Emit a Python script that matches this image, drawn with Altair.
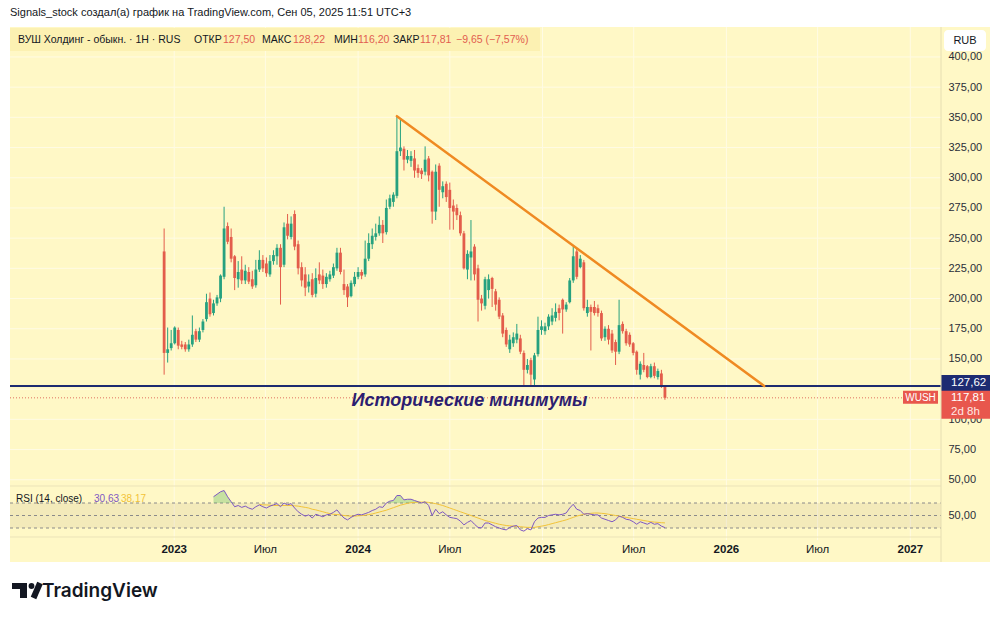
import altair as alt
import pandas as pd

FONT = "Liberation Sans"
BG = "#fff8c6"
GRID = "#fffbe4"
UP = "#26a17f"
DOWN = "#e35d4b"
NAVY = "#1d2b72"
ORANGE = "#ef8a22"
PURPLE = "#7e57c2"
MAYEL = "#f2c338"
INK = "#131722"
REDTXT = "#e25d4f"

TITLE = "Signals_stock создал(а) график на TradingView.com, Сен 05, 2025 11:51 UTC+3"
SYMBOL = "ВУШ Холдинг - обыкн. · 1H · RUS"
ANNOT = "Исторические минимумы"

# weekly candles starting 2022-12-12
DATES = pd.date_range("2022-12-12", periods=143, freq="7D").strftime("%Y-%m-%d").tolist()

OPEN = [239, 155, 159, 163, 174, 162, 162, 158, 162, 173,
        166, 174, 183, 200, 188, 196, 200, 218, 260, 251,
        235, 216, 224, 215, 222, 216, 211, 224, 232, 229,
        220, 231, 235, 242, 228, 262, 251, 270, 245, 226,
        220, 210, 216, 204, 220, 219, 212, 216, 219, 225,
        238, 212, 210, 202, 212, 218, 222, 220, 233, 245,
        251, 254, 261, 255, 276, 280, 285, 322, 324, 315,
        314, 316, 308, 306, 305, 316, 305, 272, 310, 288,
        295, 290, 277, 275, 269, 254, 224, 234, 243, 225,
        200, 194, 207, 217, 206, 199, 186, 174, 158, 163,
        166, 167, 155, 141, 149, 133, 154, 174, 173, 177,
        181, 184, 192, 199, 191, 197, 215, 239, 226, 230,
        188, 193, 193, 192, 188, 168, 175, 171, 164, 156,
        179, 173, 170, 163, 156, 137, 145, 144, 135, 144,
        135, 138, 127.5]
HIGH = [258, 176, 174, 177, 176, 165, 164, 166, 186, 175,
        176, 183, 204, 205, 199, 203, 220, 276, 263, 258,
        236, 231, 235, 228, 226, 223, 232, 240, 236, 234,
        236, 240, 245, 245, 263, 270, 268, 273, 248, 230,
        226, 220, 221, 225, 230, 224, 221, 223, 229, 242,
        242, 224, 212, 215, 222, 226, 224, 248, 254, 258,
        262, 268, 265, 282, 286, 288, 351, 348, 326, 323,
        322, 323, 311, 308, 326, 318, 306, 311, 312, 297,
        297, 296, 282, 278, 272, 256, 240, 265, 245, 228,
        203, 218, 220, 218, 208, 201, 188, 176, 170, 172,
        179, 170, 157, 150, 151, 155, 185, 182, 180, 187,
        192, 196, 195, 200, 197, 217, 243, 241, 236, 232,
        199, 195, 198, 195, 190, 177, 178, 174, 166, 199,
        181, 175, 172, 164, 157, 148, 155, 145, 146, 147,
        142, 141, 128.22]
LOW = [137, 147, 157, 162, 158, 158, 156, 156, 160, 164,
       164, 172, 181, 185, 186, 194, 197, 216, 245, 230,
       207, 209, 212, 212, 212, 208, 209, 222, 222, 218,
       218, 228, 228, 195, 226, 249, 249, 240, 220, 210,
       202, 205, 201, 201, 212, 208, 209, 214, 217, 223,
       220, 203, 193, 201, 210, 216, 216, 218, 231, 241,
       248, 252, 246, 253, 274, 276, 283, 318, 306, 312,
       309, 300, 300, 299, 302, 297, 262, 265, 276, 283,
       280, 257, 257, 265, 252, 224, 216, 215, 215, 181,
       190, 191, 200, 193, 190, 183, 168, 160, 155, 160,
       163, 154, 128, 138, 128, 128, 152, 170, 170, 174,
       178, 181, 182, 171, 189, 196, 213, 216, 225, 190,
       185, 157, 186, 185, 165, 165, 162, 155, 145, 154,
       171, 161, 160, 153, 137, 133, 139, 134, 134, 134,
       133, 126, 116.2]
CLOSE = [155, 158, 163, 176, 161, 160, 158, 162, 170, 166,
         173, 181, 197, 187, 196, 201, 219, 258, 247, 233,
         217, 222, 215, 223, 214, 210, 224, 232, 225, 221,
         231, 236, 242, 226, 259, 252, 262, 243, 225, 215,
         209, 214, 203, 217, 215, 212, 218, 220, 226, 238,
         222, 207, 201, 213, 218, 222, 219, 233, 246, 252,
         254, 261, 254, 275, 283, 286, 322, 325, 315, 318,
         318, 306, 304, 303, 315, 302, 272, 305, 290, 293,
         284, 275, 272, 269, 254, 225, 237, 239, 220, 199,
         196, 216, 216, 208, 195, 185, 171, 162, 166, 168,
         171, 156, 141, 145, 137, 153, 174, 177, 177, 185,
         186, 189, 188, 191, 195, 215, 235, 218, 233, 192,
         193, 189, 188, 188, 167, 175, 166, 157, 156, 178,
         173, 163, 162, 155, 141, 146, 141, 135, 144, 136,
         140, 128, 117.81]

# RSI(14) from the 15th candle on
RSI = [80, 84, 88, 90, 80, 72, 64, 66, 63, 65,
       62, 60, 64, 67, 64, 62, 65, 67, 69, 64,
       70, 67, 69, 62, 56, 52, 49, 51, 46, 52,
       50, 48, 51, 52, 55, 59, 52, 46, 43, 47,
       50, 52, 51, 53, 55, 58, 60, 64, 63, 70,
       73, 74, 82, 82, 75, 76, 76, 74, 72, 70,
       72, 66, 50, 60, 53, 56, 51, 47, 46, 45,
       41, 35, 39, 42, 36, 31, 30, 38, 38, 35,
       32, 30, 28, 27, 31, 33, 34, 27, 25, 29,
       27, 40, 46, 47, 47, 50, 51, 52, 51, 52,
       54, 62, 68, 60, 58, 52, 53, 52, 51, 51,
       46, 44, 42, 40, 43, 49, 47, 44, 43, 40,
       36, 40, 38, 36, 39, 36, 37, 33, 30.63]
# RSI moving average from the 28th candle on
RSI_MA = [68, 67, 67, 66.5, 66, 66, 66, 66, 66, 66,
          65.5, 65, 64, 63, 62, 60, 59, 57.5, 56, 54.5,
          53, 52, 51.5, 51, 50, 49.5, 49, 49, 49.5, 50,
          50.5, 51.5, 52.5, 54, 55.5, 57, 58.5, 60.5, 62.5, 64.5,
          66.5, 68, 69.5, 70.5, 71, 71.5, 71.5, 71.5, 71, 70,
          69, 67.5, 66, 64, 62, 60, 58, 56, 54, 52,
          50, 48, 46, 44, 42, 40.5, 39, 37.5, 36, 35,
          34, 33.5, 33, 32.5, 32, 31.5, 31, 31, 31, 32,
          33, 34, 35.5, 37, 38.5, 40, 41.5, 43, 45, 47,
          49, 50.5, 52, 53, 53.5, 54, 54, 53.5, 53, 52,
          51, 50, 49, 48, 47, 46, 45, 44, 43, 42,
          41, 40, 39.5, 39, 38.5, 38.17]

SUPPORT = 127.62
LAST = 117.81
TREND_DATES = ["2024-03-18", "2026-03-17"]
TREND_PRICES = [351, 127.62]
ANNOT_DATE = "2024-08-09"
ANNOT_PRICE = 115
GRID_LEVELS = [50, 75, 100, 125, 150, 175, 200, 225, 250, 275, 300, 325, 350, 375, 400]
PRICE_TICKS = [50, 75, 100, 150, 175, 200, 225, 250, 275, 300, 325, 350, 375, 400]
YEAR_TICKS = ["2023-01-01", "2024-01-01", "2025-01-01", "2026-01-01", "2027-01-01"]
YEAR_LABELS = ["2023", "2024", "2025", "2026", "2027"]
JUL_TICKS = ["2023-07-01", "2024-07-01", "2025-07-01", "2026-07-01"]
JUL_LABELS = ["Июл", "Июл", "Июл", "Июл"]

candles = pd.DataFrame({"date": DATES, "open": OPEN, "high": HIGH, "low": LOW, "close": CLOSE})
rsi_df = pd.DataFrame({"date": DATES[14:], "rsi": RSI})
ma_df = pd.DataFrame({"date": DATES[27:], "ma": RSI_MA})
trend_df = pd.DataFrame({"date": TREND_DATES, "p": TREND_PRICES})
years_df = pd.DataFrame({"date": YEAR_TICKS, "t": YEAR_LABELS})
jul_df = pd.DataFrame({"date": JUL_TICKS, "t": JUL_LABELS})
ONE = pd.DataFrame({"k": [0]})

W, H, PB = 931, 513, 460

X_SCALE = alt.Scale(type="utc", domain=[alt.DateTime(year=2022, month=2, date=19, utc=True),
                                        alt.DateTime(year=2027, month=2, date=21, utc=True)])
PRICE_SCALE = alt.Scale(domain=[44.0, 424.8], range=[PB, 0], zero=False, nice=False)
RSI_SCALE = alt.Scale(domain=[10.8, 95.6], range=[H, PB], zero=False, nice=False)

LABEL_EXPR = "replace(format(datum.value, '.2f'), '.', ',')"

P_AXIS = alt.Axis(orient="right", values=PRICE_TICKS, labelExpr=LABEL_EXPR, grid=False,
                  domain=False, ticks=False, tickSize=0, labelPadding=7, zindex=0,
                  labelFont=FONT, labelFontSize=11, labelColor="#2a2e39", title=None)
R_AXIS = alt.Axis(orient="right", values=[50], labelExpr=LABEL_EXPR, grid=False,
                  domain=False, ticks=False, tickSize=0, labelPadding=7, zindex=0,
                  labelFont=FONT, labelFontSize=11, labelColor="#2a2e39", title=None)

COLOR = alt.condition("datum.close >= datum.open", alt.value(UP), alt.value(DOWN))


def xf(field="date"):
    return alt.X(f"{field}:T", scale=X_SCALE, axis=None)


def py(field):
    return alt.Y(f"{field}:Q", scale=PRICE_SCALE, axis=None)


def ry(field):
    return alt.Y(f"{field}:Q", scale=RSI_SCALE, axis=None)


def txt(s, x, y, size=11, color=INK, weight="normal", align="left", font=FONT):
    return alt.Chart(ONE).mark_text(text=s, fontSize=size, color=color, fontWeight=weight,
                                    align=align, baseline="middle", font=font).encode(
        x=alt.value(x), y=alt.value(y))


def box(x1, x2, y1, y2, color, r=0):
    return alt.Chart(ONE).mark_rect(color=color, cornerRadius=r).encode(
        x=alt.value(x1), x2=alt.value(x2), y=alt.value(y1), y2=alt.value(y2))


def hline(x1, x2, y, color, w=1):
    return alt.Chart(ONE).mark_rule(color=color, strokeWidth=w).encode(
        x=alt.value(x1), x2=alt.value(x2), y=alt.value(y))


# ---------- grid ----------
hgrid = alt.Chart(pd.DataFrame({"lvl": GRID_LEVELS})).mark_rule(color=GRID, strokeWidth=1).encode(
    y=py("lvl"), x=alt.value(0), x2=alt.value(W))
vgrid = alt.Chart(pd.DataFrame({"date": YEAR_TICKS + JUL_TICKS})).mark_rule(
    color=GRID, strokeWidth=1).encode(x=xf(), y=alt.value(0), y2=alt.value(H))

# ---------- time axis labels (positioned by the x scale) ----------
year_lbl = alt.Chart(years_df).mark_text(font=FONT, fontSize=11.5, fontWeight="bold", color=INK,
                                         align="center", baseline="middle").encode(
    x=xf(), y=alt.value(523), text="t:N")
jul_lbl = alt.Chart(jul_df).mark_text(font=FONT, fontSize=11.5, color=INK,
                                      align="center", baseline="middle").encode(
    x=xf(), y=alt.value(523), text="t:N")

# ---------- price pane ----------
wicks = alt.Chart(candles).mark_rule(strokeWidth=1).encode(
    x=xf(), y=alt.Y("low:Q", scale=PRICE_SCALE, axis=P_AXIS), y2="high:Q", color=COLOR)
bodies = alt.Chart(candles).mark_bar(size=2.8).encode(
    x=xf(), y=py("open"), y2="close:Q", color=COLOR)

sup_df = pd.DataFrame({"p": [SUPPORT]})
last_df = pd.DataFrame({"p": [LAST]})
support = alt.Chart(sup_df).mark_rule(color=NAVY, strokeWidth=2).encode(
    y=py("p"), x=alt.value(0), x2=alt.value(W))
closeline = alt.Chart(last_df).mark_rule(color="#e0705f", strokeWidth=1, strokeDash=[1, 2]).encode(
    y=py("p"), x=alt.value(0), x2=alt.value(893))
trend = alt.Chart(trend_df).mark_line(color=ORANGE, strokeWidth=2.5, strokeCap="round").encode(
    x=xf(), y=py("p"))
annot = alt.Chart(pd.DataFrame({"date": [ANNOT_DATE], "p": [ANNOT_PRICE], "t": [ANNOT]})).mark_text(
    font=FONT, fontSize=18, fontStyle="italic", fontWeight="bold", color="#2c1d70",
    align="center", baseline="middle").encode(x=xf(), y=py("p"), text="t:N")

navybox = alt.Chart(sup_df).mark_rect(color=NAVY, yOffset=-11, y2Offset=5).encode(
    x=alt.value(W), x2=alt.value(980), y=py("p"), y2="p:Q")
navytext = alt.Chart(sup_df).mark_text(text="127,62", font=FONT, fontSize=11.5, color="white",
                                       align="left", baseline="middle", dy=-3).encode(
    x=alt.value(941), y=py("p"))
redbox = alt.Chart(last_df).mark_rect(color="#e8574d", yOffset=-7, y2Offset=21).encode(
    x=alt.value(W), x2=alt.value(980), y=py("p"), y2="p:Q")
redtext1 = alt.Chart(last_df).mark_text(text="117,81", font=FONT, fontSize=11.5, color="white",
                                        align="left", baseline="middle", dy=0).encode(
    x=alt.value(941), y=py("p"))
redtext2 = alt.Chart(last_df).mark_text(text="2d 8h", font=FONT, fontSize=11.5, color="#ffe8e4",
                                        align="left", baseline="middle", dy=14).encode(
    x=alt.value(941), y=py("p"))
wushbox = alt.Chart(last_df).mark_rect(color="#e8574d", yOffset=-7, y2Offset=6).encode(
    x=alt.value(893), x2=alt.value(928), y=py("p"), y2="p:Q")
wushtext = alt.Chart(last_df).mark_text(text="WUSH", font=FONT, fontSize=10, color="white",
                                        align="center", baseline="middle").encode(
    x=alt.value(910.5), y=py("p"))

# ---------- RSI pane ----------
band = alt.Chart(pd.DataFrame({"lo": [30], "hi": [70]})).mark_rect(color="#a08a70", opacity=0.13).encode(
    x=alt.value(0), x2=alt.value(W), y=ry("hi"), y2="lo:Q")
levels = alt.Chart(pd.DataFrame({"lvl": [70, 50, 30]})).mark_rule(
    color="#8a8a8a", strokeWidth=1, strokeDash=[3, 3]).encode(
    x=alt.value(0), x2=alt.value(W), y=ry("lvl"))
ob = alt.Chart(rsi_df).transform_calculate(hi="max(datum.rsi, 70)", base="70").mark_area(
    color="#5cb85c", opacity=0.35).encode(x=xf(), y=ry("hi"), y2="base:Q")
ma_line = alt.Chart(ma_df).mark_line(color=MAYEL, strokeWidth=1).encode(x=xf(), y=ry("ma"))
rsi_line = alt.Chart(rsi_df).mark_line(color=PURPLE, strokeWidth=1).encode(
    x=xf(), y=alt.Y("rsi:Q", scale=RSI_SCALE, axis=R_AXIS))

# ---------- decoration ----------
deco = [
    box(-10, 990, -27, 0, "white"),
    box(-10, 0, -27, 592, "white"),
    box(980, 990, -27, 592, "white"),
    box(-10, 990, 535, 592, "white"),
    hline(0, W, 459, "#ebe3b8"),
    hline(0, W, 510, "#ebe3b8"),
    alt.Chart(ONE).mark_rule(color="#e6deb2", strokeWidth=1).encode(
        x=alt.value(W), y=alt.value(0), y2=alt.value(535)),
    txt(TITLE, 0, -14, size=11),
    box(0, 530, 1, 24, "#fcf1b2"),
    txt(SYMBOL, 8, 13, size=10.5),
    txt("ОТКР", 184, 13, size=10.5), txt("127,50", 213, 13, size=10.5, color=REDTXT),
    txt("МАКС", 252, 13, size=10.5), txt("128,22", 283, 13, size=10.5, color=REDTXT),
    txt("МИН", 324, 13, size=10.5), txt("116,20", 348, 13, size=10.5, color=REDTXT),
    txt("ЗАКР", 383, 13, size=10.5), txt("117,81", 410, 13, size=10.5, color=REDTXT),
    txt("−9,65 (−7,57%)", 446, 13, size=10.5, color=REDTXT),
    box(934, 976, 3, 24, "white", r=4),
    txt("RUB", 955, 14, size=11, align="center"),
    txt("RSI (14, close)", 6, 472, size=10),
    txt("30,63", 84, 472, size=10, color=PURPLE),
    txt("38,17", 111, 472, size=10, color=MAYEL),
    box(2, 17, 556, 562, "#131722"),
    box(10, 17, 556, 571, "#131722"),
    alt.Chart(ONE).mark_point(filled=True, size=34, color="#131722", opacity=1).encode(
        x=alt.value(21.5), y=alt.value(559)),
    alt.Chart(ONE).mark_rule(color="#131722", strokeWidth=6).encode(
        x=alt.value(30), x2=alt.value(23.5), y=alt.value(556), y2=alt.value(571)),
    txt("TradingView", 32, 564, size=19, weight=600, font="Inter"),
]

layers = [hgrid, vgrid, wicks, bodies, support, closeline, trend, annot,
          navybox, navytext, redbox, redtext1, redtext2, wushbox, wushtext,
          band, levels, ob, ma_line, rsi_line, year_lbl, jul_lbl] + deco

chart = alt.layer(*layers).resolve_scale(y="independent").properties(
    width=W, height=H,
    autosize=alt.AutoSizeParams(type="none"),
    padding={"left": 10, "top": 27, "right": 59, "bottom": 79},
).configure(background=BG).configure_view(stroke="transparent")

chart.save("out.html", embed_options={"renderer": "svg", "actions": False})
